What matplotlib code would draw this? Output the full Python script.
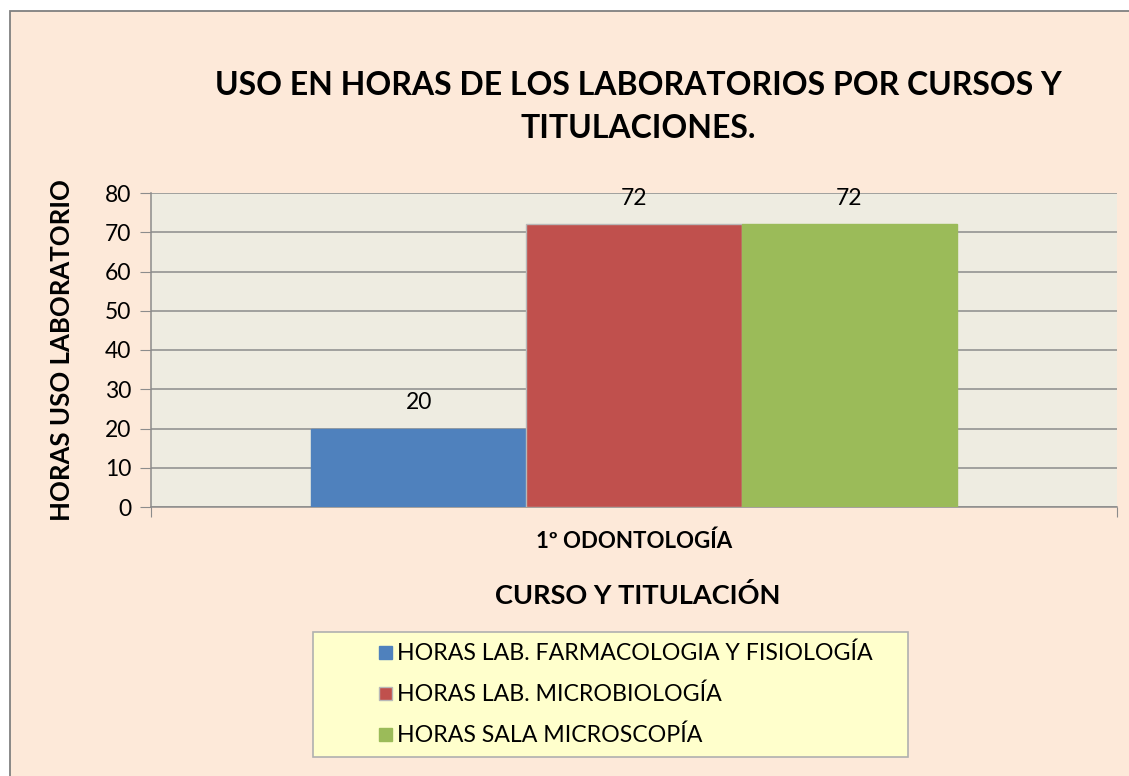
import matplotlib.pyplot as plt
from matplotlib.patches import Rectangle

plt.rcParams['font.family'] = ['Lato', 'DejaVu Sans']

categoria = ["1º ODONTOLOGÍA"]
series = ["HORAS LAB. FARMACOLOGIA Y FISIOLOGÍA",
          "HORAS LAB. MICROBIOLOGÍA",
          "HORAS SALA MICROSCOPÍA"]
valores = [20, 72, 72]
colores = ["#4F81BD", "#C0504D", "#9BBB59"]

W, H = 1129, 776
fig = plt.figure(figsize=(W / 100, H / 100), dpi=100)
fig.patch.set_facecolor("white")

# fondo y borde exterior del grafico (por debajo de los ejes)
fig.patches.append(Rectangle((9.5 / W, -0.01), 1.2, (H - 10.5) / H + 0.01, transform=fig.transFigure,
                             facecolor="#FDE9D9", edgecolor="#808080", lw=1.3, zorder=-1))

ax = fig.add_axes([151 / W, 1 - 507 / H, (1117 - 151) / W, (507 - 193) / H])
ax.set_facecolor("#EEECE1")

ancho = 0.2227
for i, (s, v, c) in enumerate(zip(series, valores, colores)):
    x = (i - 1) * ancho
    ax.bar(x, v, width=ancho, color=c, label=s,
           edgecolor="#B8B8B8" if i == 1 else c, lw=1, zorder=3)
    ax.text(x, v + 4.0, str(v), ha="center", va="bottom", fontsize=16.5, zorder=4)

ax.set_xlim(-0.5, 0.5)
ax.set_ylim(0, 80)
ax.set_yticks(range(0, 81, 10))
ax.grid(axis="y", color="#8C8C8C", lw=1.1, zorder=0)
ax.set_xticks([-0.5, 0.5])
ax.set_xticklabels(["", ""])
ax.tick_params(axis="x", length=7, color="#8C8C8C")
ax.tick_params(axis="y", length=8, color="#8C8C8C", labelsize=16.5, pad=6)
for sp in ["top", "right"]:
    ax.spines[sp].set_visible(False)
for sp in ["left", "bottom"]:
    ax.spines[sp].set_color("#8C8C8C")
    ax.spines[sp].set_linewidth(1.1)

ax.text(0, -0.11, categoria[0], transform=ax.get_xaxis_transform(),
        ha="center", va="center", fontsize=16, fontweight="bold")

fig.text(638 / W, 1 - 107 / H, "USO EN HORAS DE LOS LABORATORIOS POR CURSOS Y\nTITULACIONES.",
         ha="center", va="center", fontsize=23, fontweight="bold", linespacing=1.6)
fig.text(62 / W, 1 - 350 / H, "HORAS USO LABORATORIO", rotation=90,
         ha="center", va="center", fontsize=18.5, fontweight="bold")
fig.text(638 / W, 1 - 595 / H, "CURSO Y TITULACIÓN",
         ha="center", va="center", fontsize=19.5, fontweight="bold")

# leyenda
fig.patches.append(Rectangle((313 / W, 1 - 757 / H), (908 - 313) / W, (757 - 632) / H,
                             transform=fig.transFigure, facecolor="#FFFFCC",
                             edgecolor="#B0B0B0", lw=1.2))
for i, (s, c) in enumerate(zip(series, colores)):
    yc = 1 - (653 + 41 * i) / H
    fig.patches.append(Rectangle((379 / W, yc - 6 / H), 13 / W, 13 / H,
                                 transform=fig.transFigure, facecolor=c,
                                 edgecolor="#B8B8B8" if i == 1 else c, lw=1))
    fig.text(397 / W, yc, s, ha="left", va="center", fontsize=16.7)

plt.savefig("out.png", dpi=100, facecolor=fig.get_facecolor())
